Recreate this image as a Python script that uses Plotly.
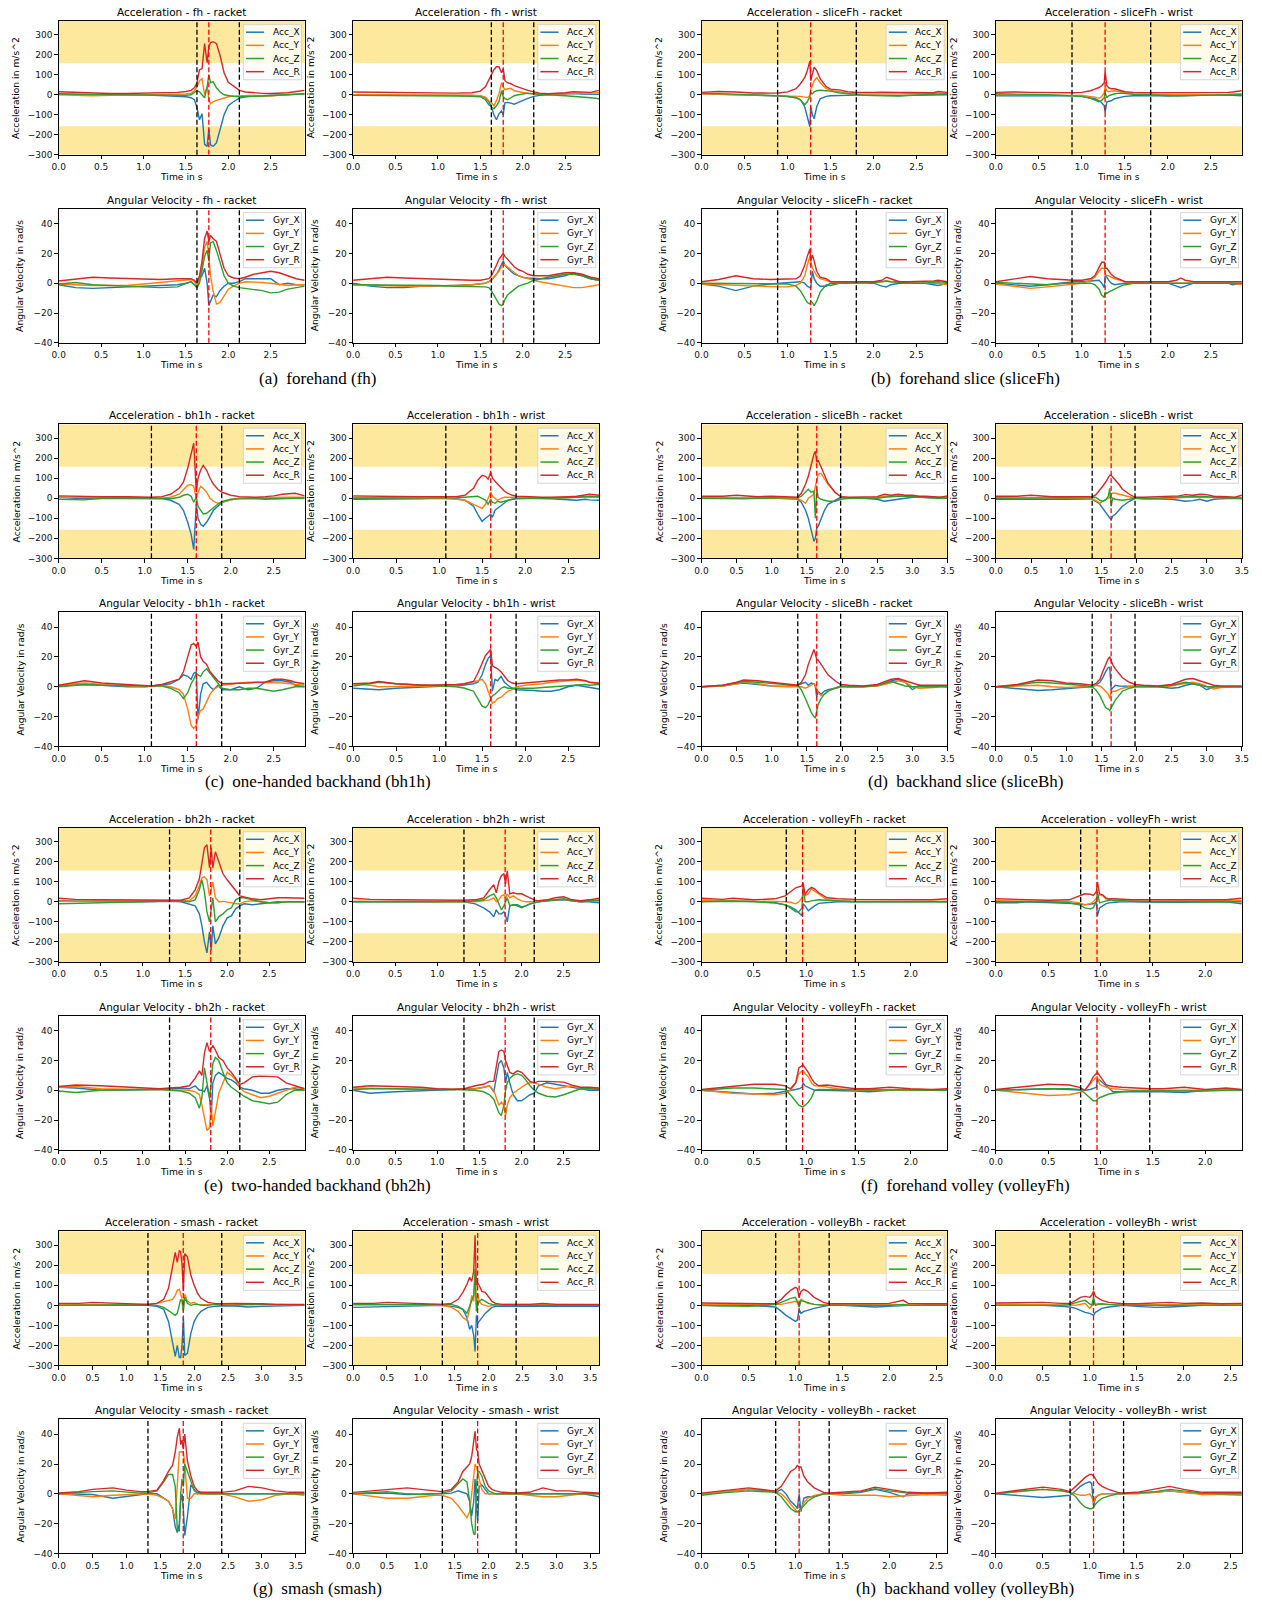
import plotly.graph_objects as go

# ---------------- data ----------------
CAPTIONS = ["(a)  forehand (fh)", "(b)  forehand slice (sliceFh)", "(c)  one-handed backhand (bh1h)",
            "(d)  backhand slice (sliceBh)", "(e)  two-handed backhand (bh2h)", "(f)  forehand volley (volleyFh)",
            "(g)  smash (smash)", "(h)  backhand volley (volleyBh)"]
KEYS = ["fh", "sliceFh", "bh1h", "sliceBh", "bh2h", "volleyFh", "smash", "volleyBh"]
XMAX = [2.9, 2.86, 2.86, 3.5, 2.92, 2.35, 3.63, 2.62]
EVENTS = [[1.63, 1.77, 2.13], [0.885, 1.27, 1.80], [1.078, 1.60, 1.895], [1.37, 1.64, 1.98],
          [1.316, 1.805, 2.15], [0.81, 0.966, 1.47], [1.317, 1.838, 2.406], [0.79, 1.04, 1.36]]

# fh
T_FH = [0.0, 0.2, 0.4, 0.6, 0.8, 1.0, 1.2, 1.4, 1.5, 1.56, 1.6, 1.63, 1.66, 1.69, 1.72, 1.75, 1.77, 1.79, 1.82, 1.86, 1.9, 1.95, 2.0, 2.06, 2.13, 2.2, 2.3, 2.4, 2.5, 2.6, 2.7, 2.8, 2.9]
FH_AR_X = [5, 2, 0, 0, 0, -2, -4, -6, -10, -15, -25, -65, -125, -95, -248, -258, -170, -250, -258, -240, -180, -100, -55, -35, -17, -10, -6, -4, -3, -3, 0, 2, 2]
FH_AR_Y = [0, -3, -5, -3, -2, 0, 2, 3, 4, 8, 20, 40, 70, 80, 0, 40, -20, -45, -35, -28, -22, -15, -10, -6, -5, -4, -3, -5, -6, -3, 0, 3, 6]
FH_AR_Z = [3, 2, 2, 0, 0, -1, -2, -2, -3, 0, 10, 20, 15, 0, -15, 40, 100, 60, 65, 35, 15, 0, -5, -8, -10, -10, -8, -6, -4, -2, 0, 3, 5]
FH_AR_R = [15, 12, 8, 6, 6, 7, 9, 12, 16, 22, 35, 60, 125, 130, 255, 160, 240, 260, 265, 255, 200, 110, 62, 42, 22, 14, 9, 7, 6, 8, 10, 16, 22]
FH_AW_X = [0, 0, 0, 0, -1, -2, -3, -4, -6, -15, -35, -60, -100, -125, -95, -80, -100, -40, -38, -42, -47, -38, -28, -18, -8, -3, 0, 2, 5, 6, 4, 3, 2]
FH_AW_Y = [0, 0, -2, -1, 0, 0, 0, -2, -5, -12, -30, -40, -55, -30, 5, 60, 40, 25, 30, 32, 20, 15, 10, 6, 4, 2, 0, 3, 5, 8, 8, 8, 10]
FH_AW_Z = [-3, -3, -4, -4, -5, -5, -6, -8, -10, -25, -50, -60, -70, -55, -35, 20, -10, -20, -25, -15, -5, 0, 5, 8, 5, 2, 0, -3, -5, -8, -10, -15, -20]
FH_AW_R = [14, 13, 11, 9, 8, 8, 8, 10, 18, 40, 75, 95, 125, 140, 140, 110, 130, 70, 60, 55, 45, 38, 30, 22, 14, 8, 5, 6, 10, 15, 14, 12, 22]
FH_GR_X = [-1, -3, -3.5, -3, -2, -2, -1.5, -1, 0, 1, -1, -3, 3, 5, 10, 0, -15, -12, -8, -9, -5, -2, 0, 0, 1, 3, 3, 3.5, 3, -1, 0, -1, -1]
FH_GR_Y = [-0.5, -1, -1.5, -1.5, -1.5, -0.5, 0.5, 1.5, 2, 2.5, 1, -2, 2, 10, 24, 28, 18, 5, -5, -14, -13, -8, -4, -2, 0, 1, 1, 0.5, 0, -1, -1.5, -1, -1]
FH_GR_Z = [-0.5, 0.5, -1, -1.5, -2, -2.5, -3, -2.5, 0, 1, -1, -3, 0, 10, 18, 22, 15, 27, 28, 22, 14, 5, 0, -2, -3, -3.5, -4, -5, -6.5, -6, -4, -3, -2]
FH_GR_R = [1.5, 3, 4, 3.5, 3, 3, 2.5, 3, 3, 3, 2, 0, 5, 15, 30, 35, 28, 32, 30, 28, 20, 10, 5, 3.5, 3, 4, 6, 7, 8, 7, 5, 3, 2]
FH_GW_X = [0, -2, -3, -3, -2, -2, -1.5, -1, -0.5, 0, 1, 2, 4, 6, 9, 13, 15, 12, 10, 8, 6, 5, 4, 3.5, 3, 3, 3, 4, 5, 7, 5, 3, 2]
FH_GW_Y = [-1, -1.5, -2, -2, -2, -2, -1.5, -1, -0.5, 0, 1, 2, 4, 6, 8, 11, 13, 12, 11, 9, 7, 5, 4, 3, 2, 1, 0, -1, -2, -3, -3, -2, -1]
FH_GW_Z = [-1, -1, -1, -1, -1, -1.5, -2, -2, -2, -2.5, -3, -5, -8, -11, -14, -15, -14, -11, -8, -6, -4, -2, -1, 0, 2, 3, 4, 5, 6, 6, 5, 3, 2]
FH_GW_R = [2, 3, 4, 3.5, 3, 3, 2.5, 2, 2, 2.5, 3, 5, 8, 12, 16, 19, 20, 18, 16, 14, 11, 9, 8, 6, 5, 5, 5, 6, 7, 7, 6, 4, 3]

# sliceFh
T_SFH = [0, 0.2, 0.4, 0.6, 0.8, 0.9, 1.0, 1.1, 1.15, 1.2, 1.23, 1.26, 1.27, 1.29, 1.31, 1.34, 1.38, 1.45, 1.5, 1.6, 1.7, 1.8, 1.9, 2.0, 2.1, 2.15, 2.2, 2.3, 2.4, 2.5, 2.6, 2.7, 2.75, 2.86]
SFH_AR_X = [5, 3, 0, -2, -4, -6, -9, -15, -25, -60, -110, -160, -60, -100, -120, -60, -20, -8, -5, -3, -3, -2, -2, -3, -4, -5, -5, -4, -3, -2, -1, 0, 2, 0]
SFH_AR_Y = [5, 3, 1, -1, -2, -3, -4, -6, -8, -12, -14, -5, 30, 45, 70, 85, 60, 30, 22, 15, 6, 3, 3, 3, 4, 4, 4, 5, 5, 6, 6, 6, 8, 8]
SFH_AR_Z = [8, 6, 4, 0, -3, -5, -8, -15, -25, -50, -35, -10, 10, 5, 15, 20, 22, 20, 18, 10, 5, 0, -3, -4, -5, -6, -8, -6, -4, -2, 0, 2, 5, 5]
SFH_AR_R = [12, 16, 14, 9, 8, 9, 14, 30, 55, 85, 120, 168, 70, 110, 138, 120, 80, 40, 28, 24, 15, 11, 10, 12, 13, 12, 12, 12, 11, 10, 10, 10, 16, 12]
SFH_AW_X = [-5, -5, -5, -4, -3, -5, -8, -15, -20, -30, -40, -55, -90, -35, -32, -30, -20, -12, -8, -5, -4, -3, -5, -6, -6, -6, -5, -4, -3, 0, 0, 0, -3, -5]
SFH_AW_Y = [0, 0, 0, -1, -2, -3, -4, -8, -12, -18, -10, 10, 40, 20, 15, 18, 20, 15, 10, 5, 3, 0, 0, 0, 0, 0, 0, 0, 1, 2, 3, 3, 4, 5]
SFH_AW_Z = [5, 4, 2, 0, -4, -6, -8, -18, -28, -35, -28, -15, 10, -15, -5, 0, 5, 8, 5, 2, 0, -2, -4, -5, -5, -5, -5, -4, -3, -2, -1, 0, 0, 0]
SFH_AW_R = [12, 14, 12, 10, 9, 10, 12, 20, 28, 36, 45, 60, 115, 45, 35, 30, 30, 20, 15, 12, 10, 10, 10, 10, 11, 11, 11, 12, 12, 12, 12, 12, 14, 20]
SFH_GR_X = [-0.5, -2, -5, -2, -0.5, 0, 0, 0.5, 1, 0, -2, -3, -3, 8, 3, 0, -2, -2, 0, 0, 0, 0, 0, 0, -2, -2.5, -1, 0, 0, 0, 0, -1, -1.5, 0]
SFH_GR_Y = [-0.5, -1, -1.5, -2, -2.5, -2.5, -2.5, -1.5, 0, 5, 12, 18, 15, 10, 8, 5, 3, 2, 1, 0.5, 0, 0, 0, 0.5, 1, 1.5, 1, 0.5, 0, 0, 0, 0, 0, -1]
SFH_GR_Z = [0, 0, 0, 0, 0, 0, -0.5, -2, -5, -10, -13, -14, -12, -13, -15, -12, -6, -1, -1.5, 0, 0, 0, 0, 0.5, 1, 1.5, 1, 0.5, 0, 0, 0, 0.5, 1, 0.5]
SFH_GR_R = [1, 2.5, 5, 3, 2.5, 2.5, 2.5, 3, 5, 12, 18, 23, 15, 19, 15, 8, 4, 3, 1, 1, 1, 1, 1, 1, 2, 4, 3, 1, 1, 1, 1, 1.5, 2, 1]
SFH_GW_X = [0, -1, -2, -1, 0.5, 1, 1, 1.5, 2, 2, 0, -3, 5, 4, 2, 0, -1, -0.5, 0, 0, 0, 0, 0, 0, -2, -3, -2, 0, 0, 0, 0, 0, -1, 0]
SFH_GW_Y = [-0.5, -2, -3.5, -2.5, -1.5, -1, 0, 2, 4, 8, 10, 10, 6, 5, 5, 4, 3, 2, 1, 0.5, 0, 0, 0, 0, 0, 0, 0, 0, 0, 0, 0, 0, 0, -1]
SFH_GW_Z = [0.5, 0, -1, -1, 0, 0, 0, 0, -1, -4, -8, -9.5, -6, -7, -6, -5, -4, -2, -1, 0, 0, 0, 0, 0, 0, 0, 0, 0, 0, 0, 0, 0.5, 0.5, 0]
SFH_GW_R = [1, 2.5, 4.5, 3, 2, 2, 2, 3, 5, 10, 14, 14, 10, 10, 8, 6, 4, 2, 1, 1, 1, 1, 1, 1, 2, 3.5, 2, 1, 1, 1, 1, 1, 1.5, 1]

# bh1h
T_BH1H = [0, 0.2, 0.3, 0.5, 0.8, 1.0, 1.08, 1.2, 1.3, 1.4, 1.45, 1.5, 1.54, 1.57, 1.6, 1.62, 1.65, 1.68, 1.72, 1.76, 1.8, 1.85, 1.9, 2.0, 2.1, 2.2, 2.3, 2.4, 2.5, 2.6, 2.7, 2.75, 2.86]
BH1H_AR_X = [5, 0, -2, 0, 0, 0, 0, -2, -10, -30, -60, -120, -180, -255, -30, -100, -130, -140, -120, -90, -60, -40, -20, -8, 0, 0, 0, 0, 0, 0, 0, 0, 0]
BH1H_AR_Y = [5, 5, 5, 3, 3, 2, 2, 0, 5, 20, 45, 65, 68, 60, 0, 30, 60, 50, 30, 0, -15, -25, -20, -8, 0, 3, 3, 3, 5, 5, 5, 5, 5]
BH1H_AR_Z = [-5, -5, -8, 0, 2, 2, 2, 0, -2, 5, 15, 20, 10, -20, 5, -40, -60, -78, -75, -60, -45, -30, -15, -5, -3, -2, -3, -5, -3, -2, 0, 0, 0]
BH1H_AR_R = [12, 10, 10, 8, 8, 5, 5, 8, 20, 50, 80, 150, 220, 275, 30, 100, 140, 165, 140, 100, 70, 45, 30, 15, 8, 5, 5, 8, 12, 20, 25, 25, 12]
BH1H_AW_X = [-5, -5, -5, -3, -2, 0, 0, -2, -10, -40, -80, -115, -100, -90, -80, -95, -60, -50, -35, -20, -10, -5, 0, 0, 0, -2, -3, -5, -8, -10, -5, -8, -10]
BH1H_AW_Y = [5, 5, 5, 3, 0, 0, 0, -5, -10, -30, -40, -50, -30, 0, 30, 10, 0, -10, 0, 5, 5, 5, 3, 2, 0, 0, 0, 3, 5, 5, 5, 5, 5]
BH1H_AW_Z = [0, 0, 0, 2, 3, 3, 3, 2, 5, 10, 10, 0, -10, -30, -5, -20, -25, -15, -20, -15, -10, -5, -3, 0, 0, 0, 0, 0, 3, 5, 10, 10, 8]
BH1H_AW_R = [12, 10, 10, 9, 8, 8, 8, 8, 15, 50, 90, 115, 110, 95, 130, 100, 85, 70, 50, 35, 25, 15, 10, 8, 5, 5, 5, 5, 8, 10, 15, 20, 15]
BH1H_GR_X = [0.5, 1, 1.5, 1, 0, 0, 0.5, 1, 2, 5, 8, 7, 5, 9, 10, -22, -5, 2, 3, 0, -2, 1, -2, -2, 0, -2, -1, 3, 4, 4, 3, 1, 0]
BH1H_GR_Y = [1, 2, 2.5, 1.5, 0.5, 0, 0.3, 1, 0, -2, -5, -15, -26, -28, -26, -20, -16, -15, -10, -5, -2, 0, 1, 2, 2.5, 3, 3, 3, 3, 2.5, 2, 1.5, 1]
BH1H_GR_Z = [0, 1, 1.5, 1, 0.5, 0.3, 0.5, 0.5, -1, -4, -8, -4, 2, 5, 9, 8, 7, 10, 12, 9, 6, 2, -1, -2, -2, -1, -1, -2, -3, -2, -1, 0, 0]
BH1H_GR_R = [1, 3, 4, 2.5, 1.5, 0.5, 0.5, 1.5, 3, 5, 10, 20, 28, 29, 27, 30, 20, 17, 15, 10, 7, 4, 2, 2, 2.5, 2.5, 3, 3, 5, 5, 4, 3, 2]
BH1H_GW_X = [-1, -2, -2, -1, 0, 0.5, 0.5, 0.5, 1, 2, 3, 8, 15, 19, 21, -3, 5, 4, 7, 3, 1, -1, -2, -2, -2.5, -3, -3, -2, 0, 1, 0, 0, -1.5]
BH1H_GW_Y = [2, 1, 0, 0, 0, 0.5, 0.5, 1, 2, 3, 4, 5, 2, -3, -8, -11, -10, -8, -7, -5, -3, -2, 0, 1, 1.5, 2, 3, 3.5, 4, 4.5, 4, 3, 2]
BH1H_GW_Z = [0.5, 2, 3, 2, 1, 0.5, 0.5, 0, -1, -3, -8, -13, -14, -12, -8, -6, -5, -3, -1, 0, -1, -1, -1, -1.5, -1, -0.5, 0, 0.5, 1, 1.5, 1.5, 1, 1.5]
BH1H_GW_R = [2, 2.5, 3.5, 2, 1, 1, 1, 1.5, 2, 3.5, 9, 16, 21, 23, 25, 14, 13, 12, 10, 7, 4, 2.5, 2, 2.5, 3, 3.5, 4, 4.5, 4.5, 5, 4, 3, 2.5]

# sliceBh
T_SBH = [0, 0.3, 0.5, 0.6, 0.8, 1.0, 1.2, 1.37, 1.42, 1.48, 1.52, 1.56, 1.6, 1.62, 1.64, 1.66, 1.7, 1.75, 1.8, 1.9, 1.98, 2.1, 2.3, 2.5, 2.6, 2.7, 2.8, 2.9, 3.0, 3.1, 3.2, 3.3, 3.4, 3.5]
SBH_AR_X = [5, 3, 0, -2, 0, 2, 0, -5, -20, -60, -100, -160, -215, -200, -150, -140, -100, -60, -30, -10, 5, 0, 0, -5, -15, -10, -5, 0, 5, 5, 3, 0, 0, 0]
SBH_AR_Y = [3, 3, 5, 3, 2, 0, -2, -2, -10, -25, 0, 10, 20, 60, 90, 120, 125, 100, 70, 30, 10, 0, 0, 5, 10, 10, 12, 10, 10, 5, 5, 5, 3, 5]
SBH_AR_Z = [0, -2, -5, -3, 0, 2, 3, 3, 10, 30, 45, 30, 35, -100, 50, 5, -5, -10, -15, -15, -5, 0, 0, 0, 5, 8, 10, 10, 8, 5, 3, 0, 0, 0]
SBH_AR_R = [10, 10, 15, 12, 8, 10, 8, 5, 25, 70, 110, 170, 220, 235, 180, 190, 155, 115, 75, 30, 8, 5, 5, 8, 20, 15, 20, 15, 15, 10, 10, 8, 5, 12]
SBH_AW_X = [-5, -5, -5, -3, -3, -3, -3, -5, -15, -30, -50, -70, -90, -100, -108, -90, -80, -60, -40, -15, 0, 0, -5, -5, -10, -15, -12, -5, -15, -5, -3, 0, 0, -3]
SBH_AW_Y = [3, 3, 3, 2, 0, 0, -2, -5, -10, -25, -15, -5, 0, 5, 20, 25, 25, 20, 15, 5, 0, -5, -5, 0, 3, 5, 5, 5, 5, 3, 3, 2, 2, 3]
SBH_AW_Z = [0, 0, 0, 0, 0, 0, 2, 3, 5, -10, -15, -10, 10, 50, -40, 0, -5, -8, -10, -5, 0, 0, 0, 5, 8, 8, 10, 10, 8, 5, 3, 0, 0, 0]
SBH_AW_R = [10, 10, 15, 12, 8, 8, 8, 8, 17, 40, 60, 80, 100, 115, 115, 105, 90, 70, 45, 20, 5, 5, 8, 8, 12, 18, 15, 20, 18, 10, 10, 8, 5, 15]
SBH_GR_X = [0, 0.5, 2, 2.5, 1.5, 0.5, 0.3, 1, 2, 3, 1, 2.5, 2, 0, -7, -3, -5, -3, -2, -1, 0.5, 0, 0, 0.5, 2, 4, 5, 3, -2, 1, 0, 0.5, 0.5, 0]
SBH_GR_Y = [0, 0.5, 2, 3, 2, 0.5, 0, 0, 0, -1, 0, 1, 2, 1, -1, -4, -6, -5, -3, -1, 0, 0, 0, 0.5, 1.5, 3, 4, 3, 0, -1, -1, -0.5, 0, 0]
SBH_GR_Z = [0, 1, 2.5, 3.5, 3, 2, 1.5, 1, -2, -8, -13, -17, -20, -21, -16, -12, -8, -5, -3, -1, 0, 0, 0, 1, 2, 3.5, 2, 0.5, 0, 0, 0, 0, 0, 0]
SBH_GR_R = [0, 1, 3, 4.5, 4, 3, 2, 1, 3, 8, 15, 20, 25, 22, 18, 18, 15, 12, 8, 4, 1.5, 1, 0.5, 1.5, 3, 5, 5.5, 4, 2, 1, 1, 1, 1, 1]
SBH_GW_X = [0, -1, -2, -2.5, -2, -1, -0.5, 0, 1, 3, 6, 10, 13, 13, -2, -1, 1, 0.5, 0.5, 0.5, 0.5, 0, 0, -1, -0.5, 1, 2, 1, -2, 0, 0, 0, 0, 0]
SBH_GW_Y = [0, 0.5, 1, 1, 0, -0.5, 0, 0, 1, 0.5, -1, -3, -5, -8, -4, -3, -3, -2, -1, 0, 0, 0, 0, 0.5, 1.5, 2.5, 3, 2, 0, -1.5, -0.5, 0, 0, 0]
SBH_GW_Z = [0, 1, 2.5, 3, 2.5, 2, 1, 0, -2, -6, -10, -14, -15, -16, -14, -12, -9, -6, -3, -1, 0, 0, 0, 1, 2, 3, 2, 1, 0, 0, 0, 0, 0, 0]
SBH_GW_R = [0, 1.5, 3.5, 4.5, 4, 2.5, 2, 1, 2, 5, 10, 15, 19, 20, 17, 15, 12, 9, 6, 3, 1.5, 1, 0.5, 1.5, 3, 5, 5.5, 4, 2, 1, 0.5, 0.5, 0.5, 0.5]

# bh2h
T_BH2H = [0, 0.2, 0.5, 0.8, 1.0, 1.2, 1.32, 1.45, 1.55, 1.62, 1.67, 1.7, 1.73, 1.76, 1.79, 1.81, 1.83, 1.86, 1.9, 1.95, 2.0, 2.05, 2.1, 2.15, 2.2, 2.3, 2.4, 2.5, 2.6, 2.7, 2.8, 2.92]
BH2H_AR_X = [5, 3, 0, 0, 0, 2, 2, 0, -10, -20, -60, -120, -200, -255, -150, -240, -120, -210, -180, -120, -80, -70, -35, -20, -10, -15, -10, -5, 0, 0, 0, 0]
BH2H_AR_Y = [3, 3, 3, 3, 2, 2, 3, 2, 5, 30, 80, 120, 125, 110, 30, 60, 100, 20, 0, 2, 0, -5, -10, -10, 0, 5, 0, -5, -5, 0, 0, 0]
BH2H_AR_Z = [-10, -8, -5, 0, 2, 5, 5, 5, 0, 10, 60, 110, 50, -50, -100, -30, 20, -100, -75, -60, -40, -30, 10, 20, 20, 10, 0, -5, -5, 0, 0, 0]
BH2H_AR_R = [18, 12, 10, 10, 10, 8, 10, 8, 20, 60, 115, 200, 270, 285, 170, 270, 170, 250, 205, 140, 110, 85, 60, 30, 25, 15, 10, 15, 20, 20, 18, 18]
BH2H_AW_X = [0, 0, -2, -3, 0, 2, 0, -10, -30, -50, -75, -40, -60, -60, -50, -70, -100, -20, -15, -20, -30, -20, -10, -5, 0, 5, 8, 10, 5, 0, 0, -5]
BH2H_AW_Y = [3, 3, 3, 3, 3, 3, 3, 0, 5, 10, 20, 0, 10, 30, 35, 20, 40, 20, 30, 15, 5, 0, 0, 0, 5, 5, 10, 12, 5, 0, 5, 10]
BH2H_AW_Z = [0, 0, 0, 0, 0, 0, 0, 5, 10, 30, 40, 20, -10, -40, -20, 0, 20, -20, -15, -15, -25, -20, -10, -5, 0, 5, 10, 15, 5, 0, 5, 5]
BH2H_AW_R = [18, 12, 10, 8, 8, 8, 8, 10, 20, 60, 85, 45, 100, 130, 140, 90, 155, 40, 45, 40, 40, 30, 20, 10, 5, 10, 20, 25, 10, 5, 10, 18]
BH2H_GR_X = [2, 1.5, 0, 0, 0.5, 0.5, 1, 1.5, 1, 3, 0, 0, -1, 3, -5, -18, 5, 10, 12, 10, 8, 7, 5, 2, 1, 0, -2, -2, 0, 1, 1, 0]
BH2H_GR_Y = [2, 2.5, 1, 0.5, 0.5, 0.5, 0.5, 0.5, 0, -1, -3, -10, -20, -27, -25, -10, -24, -15, -2, 5, 12, 10, 7, 2, -1, -3, -5, -4, -2, 0, 2, 1]
BH2H_GR_Z = [-0.5, -1.5, 0, 0.5, 0.5, 0.5, 0, -0.5, -2, -5, -12, -5, 15, 5, -5, 5, 18, 22, 20, 12, 5, 2, 0, -2, -4, -7, -8, -9, -8, -3, 0, 0]
BH2H_GR_R = [2.5, 3.5, 3, 2, 1.5, 1, 1.5, 2, 3, 8, 13, 10, 25, 32, 26, 28, 30, 27, 22, 20, 15, 12, 8, 4, 5, 9, 9.5, 9.5, 9, 5, 3, 1]
BH2H_GW_X = [0, -2, -1, -0.5, 0, 0.5, 1, 1, 2, 3, -1, 10, 18, 20, 15, 5, 12, 5, -3, -7, -7, -5, -3, -2, 3, 5, 4, 3, 2, 1, 0, 0]
BH2H_GW_Y = [1.5, 1.5, 1, 0.5, 0.5, 0.5, 0.5, 1, 2, 3, 0, -5, -10, -8, -10, -17, -10, -5, -2, 0, 2, 4, 5, 5, 4, 2, 1, 2, 3, 1, 1, 1]
BH2H_GW_Z = [0.5, 1, 1, 0.5, 0.5, 0.5, 0.5, 0, -1, -3, -6, -10, -15, -17, -10, 0, 5, 8, 10, 11, 10, 7, 3, 0, -2, -4, -4.5, -3, -1, 1, 1, 0.5]
BH2H_GW_R = [2, 3, 2.5, 2, 1, 0.5, 1, 3, 4, 6, 6, 15, 26, 27, 26, 20, 17, 12, 11, 13, 12, 9, 6, 5, 6, 6, 6, 5.5, 3.5, 2, 2, 1.5]

# volleyFh
T_VFH = [0, 0.2, 0.3, 0.5, 0.7, 0.8, 0.85, 0.9, 0.93, 0.96, 0.97, 0.99, 1.02, 1.05, 1.08, 1.12, 1.2, 1.3, 1.47, 1.6, 1.8, 2.0, 2.2, 2.35]
VFH_AR_X = [8, 5, 5, 2, -5, -15, -25, -40, -55, -70, -10, -20, -45, -30, -20, -8, -3, 0, 0, 0, 0, 0, 0, 0]
VFH_AR_Y = [5, 5, 5, 3, 2, 0, -2, -10, 0, 20, 40, 30, 40, 65, 55, 40, 10, 5, 3, 3, 3, 3, 3, 3]
VFH_AR_Z = [0, 2, 3, 0, -5, -15, -30, -50, -50, -30, 80, 0, 0, 5, 8, 10, 8, 5, 0, 0, 0, 0, 0, 0]
VFH_AR_R = [18, 12, 18, 10, 15, 30, 50, 70, 75, 80, 95, 36, 60, 72, 65, 45, 20, 15, 12, 12, 12, 10, 10, 15]
VFH_AW_X = [-5, -5, 0, -3, -5, -10, -15, -10, -10, 0, -70, -30, -20, -10, -5, -3, 0, 0, -3, -3, -3, 0, 0, -10]
VFH_AW_Y = [5, 5, 5, 5, 2, -5, -15, -10, 0, 20, 30, 35, 30, 15, 10, 5, 3, 3, 3, 3, 3, 3, 3, 5]
VFH_AW_Z = [0, 0, 0, 0, -5, -15, -30, -35, -30, 0, 50, -5, 0, 5, 8, 8, 5, 3, 0, 0, 0, 0, 0, 0]
VFH_AW_R = [15, 12, 12, 8, 10, 30, 40, 38, 32, 50, 100, 40, 35, 20, 15, 15, 12, 10, 10, 10, 10, 10, 10, 18]
VFH_GR_X = [0, -1, -2, -2.5, -2, -1, 0, 0.5, 1, 2, 5, 3, 2, 1, 0, 0, 0, 0, -0.5, -1, 0, 0, 0, 0]
VFH_GR_Y = [0, -1.5, -2, -2.5, -3, -2, 0, 5, 11, 13, 13, 11, 9, 5, 3, 3, 2, 1, 0, 0, 0, 0, 0, 0]
VFH_GR_Z = [0, 1, 1.5, 1.5, 1, 0.5, -3, -7, -10, -11, -11, -10, -8, -5, 0, 0.5, 0.5, 0, 0, 0, 0, 0, 0, 0]
VFH_GR_R = [0.5, 2, 3, 4, 4, 3, 1, 5, 15, 17, 17, 15, 12, 8, 5, 3, 3.5, 2.5, 1, 1, 2, 1, 0.5, 1]
VFH_GW_X = [0, 0.5, 1, 1, 0.5, 0, 0, 0.5, 1, 2, 7, 7, 5, 3, 1, -1, -1, -1, -0.5, -1, -1.5, 0, 0, 0]
VFH_GW_Y = [0, -1.5, -2.5, -3.5, -3, -1.5, 0, 4, 7, 9, 9, 4, 3, 2, 1.5, 1, 0.5, 0, 0, 0, 0, 0, 0, 0]
VFH_GW_Z = [0, 0.5, 1, 1, 1, 0.5, -2, -5, -7, -7, -6, -5, -4, -3, -2.5, -2, -1, -0.5, -0.5, -1, -1, -0.5, 0, 0]
VFH_GW_R = [0.5, 2, 3, 4, 3.5, 2, 0, 5, 9, 11, 12, 10, 7, 4, 3, 2.5, 2, 1.5, 1, 1, 2, 0.5, 1.5, 0.5]

# smash
T_SM = [0, 0.3, 0.5, 0.8, 1.0, 1.2, 1.31, 1.45, 1.55, 1.62, 1.68, 1.72, 1.75, 1.78, 1.8, 1.82, 1.84, 1.86, 1.9, 1.95, 2.0, 2.05, 2.1, 2.2, 2.3, 2.4, 2.6, 2.8, 3.0, 3.2, 3.4, 3.63]
SM_AR_X = [2, 0, 0, 0, 0, 0, 0, -5, -20, -80, -190, -255, -200, -260, -260, -200, -60, -250, -240, -140, -80, -50, -30, -10, -5, -3, -3, -8, -5, -3, 0, 0]
SM_AR_Y = [5, 5, 5, 5, 3, 3, 5, 10, 20, 25, 30, 50, 75, 80, 60, 40, 10, 55, 20, 10, 15, 5, 5, 5, 5, 5, 3, 3, 3, 3, 3, 3]
SM_AR_Z = [0, 0, 0, 0, 0, 3, 5, 0, -10, -25, -40, -50, -40, 0, 30, 20, -30, 40, 10, 0, 5, 5, 0, 0, 5, 0, 0, 5, 5, 3, 3, 0]
SM_AR_R = [10, 10, 15, 12, 8, 5, 5, 10, 30, 85, 200, 265, 215, 272, 268, 205, 70, 258, 242, 150, 100, 60, 35, 15, 10, 8, 10, 10, 8, 5, 5, 5]
SM_AW_X = [-10, -8, -8, -3, -3, 0, 0, -5, -10, -20, -60, -120, -100, -150, -230, -50, -90, -80, -60, -40, -25, -10, -5, -5, -5, -5, -5, -5, -3, -3, -5, -5]
SM_AW_Y = [5, 5, 5, 3, 3, 0, 0, -10, -30, -60, -75, -20, 50, 20, 150, 0, 60, 20, 5, 0, -5, 0, 0, 5, 5, 5, 3, 3, 3, 3, 3, 3]
SM_AW_Z = [3, 3, 3, 3, 3, 3, 3, 5, -5, -20, -40, 0, 30, 50, 180, -30, 0, 20, 30, 20, 10, 5, 3, 0, 0, 0, 0, 0, 0, 0, 0, 0]
SM_AW_R = [10, 10, 15, 10, 8, 5, 5, 10, 30, 65, 105, 140, 120, 170, 350, 100, 110, 100, 70, 65, 40, 20, 10, 5, 5, 5, 5, 10, 5, 5, 5, 5]
SM_GR_X = [0, 0, -0.5, -3, -2, -1, 0, 0, -3, -5, -10, -22, -26, -20, -5, 0, -10, -28, -15, 6, 3, 0, 1, 0, 0, 0, 0, 0, 0, 0, 0, 0]
SM_GR_Y = [0, -1, -2, -1, -0.5, 0, 0, -1, -3, -5, -10, -17, 5, 28, 28, 28, 28, 20, -3, -3, 0, 0, 0, 0, 0, 0, -2, -5, -4, -1, 0, -1]
SM_GR_Z = [0, 1, 1.5, 2, 1, 0.5, 0.5, 2, 8, 13, 13, 5, -24, -25, 0, 10, 5, 20, 15, 8, 2, 1, 0, 0, 0, 0, 0, 0.5, 0.5, 0, 0, 0]
SM_GR_R = [0.5, 1.5, 3, 4, 2.5, 1.5, 1.5, 2.5, 9, 15, 19, 28, 38, 44, 33, 36, 30, 40, 22, 12, 5, 2, 1, 1, 0.5, 1, 2, 5, 4, 2, 1, 1]
SM_GW_X = [0, 0, 0.5, -0.5, 0, 0, 0, 0.5, 2, 1, 0, -5, -15, -5, 10, -10, -18, 5, 6, 3, 0, 0, 0, 0, 0, 0, 0, 0, 0, 0, 0, -2]
SM_GW_Y = [0, -2, -3, -3, -2, -1, -1, -3, -8, -12, -16, -12, 0, 15, 20, 18, 15, 10, 3, 0, 0, 0, 0, 0, 0, 0, -1, -2, -2, -1, 0, 0]
SM_GW_Z = [0, 1, 1.5, 0, -0.5, 0, 0.5, 2, 7, 10, 8, -5, -20, -27, -27, 5, 15, 15, 12, 5, 2, 1, 0, 0, 0, 0, 0, 0, 0, 0, 0, 0]
SM_GW_R = [1, 2, 3, 4, 3, 2, 1.5, 3, 8, 15, 18, 20, 25, 35, 42, 30, 28, 20, 16, 10, 5, 3, 2, 1, 0.5, 0.5, 1, 4, 2, 2, 1, 0.5]

# volleyBh
T_VBH = [0, 0.2, 0.5, 0.7, 0.79, 0.85, 0.9, 0.95, 1.0, 1.02, 1.04, 1.06, 1.09, 1.13, 1.2, 1.3, 1.36, 1.5, 1.7, 1.85, 2.0, 2.15, 2.2, 2.4, 2.62]
VBH_AR_X = [0, -2, 0, -3, -8, -30, -50, -65, -80, -75, -20, -40, -30, -25, -15, -5, 0, 0, -5, -8, -5, 0, 0, 0, 0]
VBH_AR_Y = [5, 5, 3, 3, 2, 5, 10, 15, 20, 15, 0, 30, 20, 10, 5, 3, 3, 3, 3, 3, 3, 3, 3, 3, 3]
VBH_AR_Z = [0, -2, -5, 0, 5, 15, 25, 35, 40, 20, -10, 25, 20, 15, 5, 0, 0, 0, 0, 0, 0, 5, 0, 0, 0]
VBH_AR_R = [12, 10, 8, 8, 10, 30, 55, 75, 90, 85, 40, 70, 80, 70, 40, 15, 8, 8, 8, 10, 10, 25, 10, 8, 8]
VBH_AW_X = [0, 0, 0, -5, -8, -15, -25, -35, -40, -45, -50, -35, -25, -15, -8, -3, 0, -5, -10, -8, -5, -3, 0, 0, 0]
VBH_AW_Y = [5, 5, 5, 3, 2, 0, 5, 10, -15, 0, 10, 5, 10, 5, 3, 3, 3, 3, 3, 5, 3, 3, 3, 3, 3]
VBH_AW_Z = [0, 0, 0, 0, 5, 15, 20, 25, 10, 0, 40, 0, 5, 8, 5, 0, 0, 0, 0, 0, 0, 0, 0, 0, 0]
VBH_AW_R = [12, 12, 15, 10, 10, 25, 40, 45, 40, 50, 70, 45, 35, 25, 15, 10, 8, 8, 10, 15, 10, 10, 12, 8, 10]
VBH_GR_X = [0, 1, 3, 2, 1, 3, 0, -5, -8, -10, 0, -12, -3, -2, -2, 0, 0, 0, 1, 3, 1, -2, 0, 0, 0]
VBH_GR_Y = [0, 1, 3, 2.5, 1.5, 0, -3, -7, -11, -12, -12, -10, -6, -3, -1, 0, 0, -1, -1, -1, -2, -1.5, -1, -0.5, -1]
VBH_GR_Z = [-1, 0.5, 2, 1.5, 1, -2, -6, -10, -12, -12, -11, -10, -8, -5, -2, 0, 0, 0.5, 1.5, 3.5, 2, 1, 0.5, 0.5, 0.5]
VBH_GR_R = [0.5, 2, 4, 2.5, 2, 5, 10, 15, 17, 19, 18, 18, 12, 8, 4, 1, 0.5, 1, 2, 4.5, 3, 2, 1, 0.5, 1]
VBH_GW_X = [0, -1, -2.5, -1.5, -1, 2, 5, 7, 8, 7, -8, -3, -1, 0, 0, 0, 0, 0.5, 1, 2, 1, 0, 0, 0, 0]
VBH_GW_Y = [0, 1, 3, 2, 1, 0, -1, -1, 0, -2, -6, -2, -1, 0, 0, 0, 0, 0, 1, 2, 1, 0, -0.5, -0.5, -1]
VBH_GW_Z = [0, 1.5, 3, 2, 1, -2, -6, -9, -10, -10, -9, -7, -5, -3, -1.5, 0, 0, 0.5, 1.5, 3, 2, 1, 0.5, 0, 0]
VBH_GW_R = [0.5, 2, 4.5, 3, 1.5, 5, 8, 11, 13, 13, 12, 10, 7, 5, 3, 1, 0.5, 1, 3, 5, 3, 1.5, 1, 1, 1]

TIMES = [T_FH, T_SFH, T_BH1H, T_SBH, T_BH2H, T_VFH, T_SM, T_VBH]
SERIES = [
    [(FH_AR_X, FH_AR_Y, FH_AR_Z, FH_AR_R), (FH_AW_X, FH_AW_Y, FH_AW_Z, FH_AW_R),
     (FH_GR_X, FH_GR_Y, FH_GR_Z, FH_GR_R), (FH_GW_X, FH_GW_Y, FH_GW_Z, FH_GW_R)],
    [(SFH_AR_X, SFH_AR_Y, SFH_AR_Z, SFH_AR_R), (SFH_AW_X, SFH_AW_Y, SFH_AW_Z, SFH_AW_R),
     (SFH_GR_X, SFH_GR_Y, SFH_GR_Z, SFH_GR_R), (SFH_GW_X, SFH_GW_Y, SFH_GW_Z, SFH_GW_R)],
    [(BH1H_AR_X, BH1H_AR_Y, BH1H_AR_Z, BH1H_AR_R), (BH1H_AW_X, BH1H_AW_Y, BH1H_AW_Z, BH1H_AW_R),
     (BH1H_GR_X, BH1H_GR_Y, BH1H_GR_Z, BH1H_GR_R), (BH1H_GW_X, BH1H_GW_Y, BH1H_GW_Z, BH1H_GW_R)],
    [(SBH_AR_X, SBH_AR_Y, SBH_AR_Z, SBH_AR_R), (SBH_AW_X, SBH_AW_Y, SBH_AW_Z, SBH_AW_R),
     (SBH_GR_X, SBH_GR_Y, SBH_GR_Z, SBH_GR_R), (SBH_GW_X, SBH_GW_Y, SBH_GW_Z, SBH_GW_R)],
    [(BH2H_AR_X, BH2H_AR_Y, BH2H_AR_Z, BH2H_AR_R), (BH2H_AW_X, BH2H_AW_Y, BH2H_AW_Z, BH2H_AW_R),
     (BH2H_GR_X, BH2H_GR_Y, BH2H_GR_Z, BH2H_GR_R), (BH2H_GW_X, BH2H_GW_Y, BH2H_GW_Z, BH2H_GW_R)],
    [(VFH_AR_X, VFH_AR_Y, VFH_AR_Z, VFH_AR_R), (VFH_AW_X, VFH_AW_Y, VFH_AW_Z, VFH_AW_R),
     (VFH_GR_X, VFH_GR_Y, VFH_GR_Z, VFH_GR_R), (VFH_GW_X, VFH_GW_Y, VFH_GW_Z, VFH_GW_R)],
    [(SM_AR_X, SM_AR_Y, SM_AR_Z, SM_AR_R), (SM_AW_X, SM_AW_Y, SM_AW_Z, SM_AW_R),
     (SM_GR_X, SM_GR_Y, SM_GR_Z, SM_GR_R), (SM_GW_X, SM_GW_Y, SM_GW_Z, SM_GW_R)],
    [(VBH_AR_X, VBH_AR_Y, VBH_AR_Z, VBH_AR_R), (VBH_AW_X, VBH_AW_Y, VBH_AW_Z, VBH_AW_R),
     (VBH_GR_X, VBH_GR_Y, VBH_GR_Z, VBH_GR_R), (VBH_GW_X, VBH_GW_Y, VBH_GW_Z, VBH_GW_R)],
]
ACC_NAMES = ["Acc_X", "Acc_Y", "Acc_Z", "Acc_R"]
GYR_NAMES = ["Gyr_X", "Gyr_Y", "Gyr_Z", "Gyr_R"]
BAND = 156.96  # 16 g

# ---------------- styling / layout ----------------
W, H = 1262, 1608
COLORS = ["#1f77b4", "#ff7f0e", "#2ca02c", "#d62728"]
BAND_COLOR = "#fde99d"
FONT = "DejaVu Sans"
COL_X = [(52.3, 301.0), (350.0, 598.7), (702.3, 951.0), (1000.0, 1248.7)]
ACC_TOP0, GYR_TOP0, ROW_STEP, PANEL_H = 20.7, 209.3, 404.8, 134.6

def px(x):
    return x / W

def py(y):
    return 1 - y / H

fig = go.Figure()
layout = {}
shapes = []
annotations = []
n = 0
for g in range(8):
    grow, gcol = divmod(g, 2)
    t = TIMES[g]
    for p in range(4):
        kind = "acc" if p < 2 else "gyr"
        loc = "racket" if p % 2 == 0 else "wrist"
        x0, x1 = COL_X[2 * gcol + (p % 2)]
        top = (ACC_TOP0 if kind == "acc" else GYR_TOP0) + ROW_STEP * grow
        bot = top + PANEL_H
        n += 1
        xa = "x" if n == 1 else f"x{n}"
        ya = "y" if n == 1 else f"y{n}"
        xk = "xaxis" if n == 1 else f"xaxis{n}"
        yk = "yaxis" if n == 1 else f"yaxis{n}"
        yr = [-300, 370] if kind == "acc" else [-40, 50]
        common = dict(showline=True, mirror=True, linecolor="black", linewidth=1,
                      ticks="outside", ticklen=3.5, tickwidth=0.8, tickcolor="black",
                      showgrid=False, zeroline=False,
                      tickfont=dict(family=FONT, size=9, color="#111"))
        layout[xk] = dict(domain=[px(x0), px(x1)], anchor=ya, range=[0, XMAX[g]],
                          tick0=0, dtick=0.5, tickformat=".1f", **common)
        layout[yk] = dict(domain=[py(bot), py(top)], anchor=xa, range=yr,
                          tick0=0, dtick=100 if kind == "acc" else 20, **common)
        vals = SERIES[g][p]
        names = ACC_NAMES if kind == "acc" else GYR_NAMES
        for i in range(4):
            assert len(vals[i]) == len(t), (KEYS[g], kind, loc, names[i], len(vals[i]), len(t))
            fig.add_trace(go.Scatter(x=t, y=vals[i], mode="lines", xaxis=xa, yaxis=ya,
                                     line=dict(color=COLORS[i], width=1.4), name=names[i],
                                     showlegend=False, hoverinfo="skip"))
        # threshold bands
        if kind == "acc":
            for (b0, b1) in [(BAND, yr[1]), (yr[0], -BAND)]:
                shapes.append(dict(type="rect", xref=f"{xa} domain", yref=ya, x0=0, x1=1,
                                   y0=b0, y1=b1, fillcolor=BAND_COLOR, line=dict(width=0),
                                   layer="below"))
        # event lines
        for j, ev in enumerate(EVENTS[g]):
            shapes.append(dict(type="line", xref=xa, yref=f"{ya} domain", x0=ev, x1=ev, y0=0, y1=1,
                               line=dict(color="red" if j == 1 else "black", width=1.3, dash="5px,2.5px"),
                               layer="above"))
        # titles and axis labels
        title = ("Acceleration" if kind == "acc" else "Angular Velocity") + f" - {KEYS[g]} - {loc}"
        annotations.append(dict(text=title, xref="paper", yref="paper", x=px((x0 + x1) / 2), y=py(top),
                                xanchor="center", yanchor="bottom", yshift=1, showarrow=False,
                                font=dict(family=FONT, size=10.5, color="black")))
        annotations.append(dict(text="Time in s", xref="paper", yref="paper", x=px((x0 + x1) / 2),
                                y=py(bot + 22), xanchor="center", yanchor="middle", showarrow=False,
                                font=dict(family=FONT, size=9.2, color="black")))
        ylab = "Acceleration in m/s^2" if kind == "acc" else "Angular Velocity in rad/s"
        annotations.append(dict(text=ylab, xref="paper", yref="paper",
                                x=px(x0 - (43 if kind == "acc" else 39)), y=py((top + bot) / 2),
                                xanchor="center", yanchor="middle", textangle=-90, showarrow=False,
                                font=dict(family=FONT, size=9.2, color="black")))
        # legend box
        bx1 = x1 - 3.3
        bx0 = bx1 - 58.7
        by0 = top + 4
        by1 = by0 + 55.3
        shapes.append(dict(type="rect", xref="paper", yref="paper", x0=px(bx0), x1=px(bx1),
                           y0=py(by1), y1=py(by0), fillcolor="rgba(255,255,255,0.8)",
                           line=dict(color="#cccccc", width=0.8), layer="above"))
        for i in range(4):
            ly = by0 + 7.6 + 13.2 * i
            shapes.append(dict(type="line", xref="paper", yref="paper", x0=px(bx0 + 2.7), x1=px(bx0 + 21),
                               y0=py(ly), y1=py(ly), line=dict(color=COLORS[i], width=1.5), layer="above"))
            annotations.append(dict(text=names[i], xref="paper", yref="paper", x=px(bx0 + 27.5), y=py(ly),
                                    xanchor="left", yanchor="middle", showarrow=False,
                                    font=dict(family=FONT, size=9, color="black")))
    # caption
    annotations.append(dict(text=CAPTIONS[g], xref="paper", yref="paper",
                            x=px(314 if gcol == 0 else 969), y=py(379.3 + ROW_STEP * grow),
                            xanchor="center", yanchor="middle", showarrow=False,
                            font=dict(family="Liberation Serif", size=17, color="black")))

fig.update_layout(width=W, height=H, margin=dict(l=0, r=0, t=0, b=0), paper_bgcolor="white",
                  plot_bgcolor="white", showlegend=False, font=dict(family=FONT),
                  shapes=shapes, annotations=annotations, **layout)
fig.write_html("out.html", config={"displayModeBar": False},
               post_script="document.body.style.margin='0px';document.body.style.overflow='hidden';")
